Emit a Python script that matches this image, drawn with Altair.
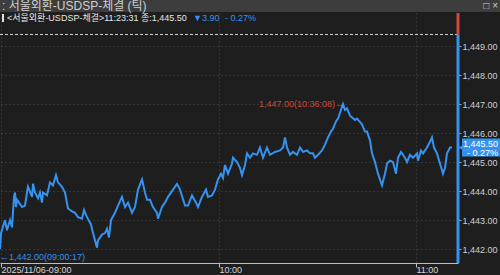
import altair as alt
import pandas as pd

# tick sequence number (x) and traded price
tick = [0, 1, 5, 7, 10, 12, 14, 15, 16, 17, 19, 22, 25, 27, 28, 32, 33, 35, 38, 40,
        42, 43, 47, 50, 53, 56, 58, 62, 65, 68, 72, 75, 78, 82, 84, 87, 91, 93, 97, 98,
        102, 105, 107, 109, 111, 115, 118, 122, 125, 128, 132, 135, 138, 142, 145, 147,
        150, 153, 157, 158, 162, 165, 168, 173, 177, 180, 185, 188, 192, 196, 198, 202,
        206, 208, 212, 215, 218, 221, 223, 225, 228, 232, 233, 237, 240, 242, 245, 247,
        250, 253, 257, 260, 263, 267, 270, 275, 280, 283, 285, 287, 290, 293, 297, 300,
        303, 307, 310, 313, 315, 318, 322, 325, 328, 331, 333, 336, 338, 340, 343, 345,
        347, 350, 355, 357, 362, 365, 367, 370, 372, 375, 378, 382, 385, 387, 390, 393,
        396, 398, 401, 405, 407, 410, 413, 417, 418, 421, 423, 427, 430, 432, 434, 437,
        440, 443, 445, 447, 450, 452]
price = [1442.00, 1442.55, 1443.00, 1442.65, 1443.00, 1442.75, 1443.80, 1443.95, 1443.45, 1443.70,
         1443.60, 1443.45, 1443.50, 1443.95, 1444.15, 1443.80, 1444.25, 1443.95, 1443.75, 1443.95,
         1443.60, 1443.95, 1443.85, 1444.30, 1444.20, 1444.55, 1444.30, 1444.15, 1443.95, 1443.40,
         1443.30, 1443.25, 1443.10, 1443.05, 1443.35, 1443.10, 1442.85, 1442.55, 1442.05, 1442.30,
         1442.50, 1442.55, 1442.70, 1442.40, 1443.00, 1443.25, 1443.50, 1443.80, 1443.45, 1443.60,
         1443.25, 1443.45, 1444.05, 1444.40, 1443.95, 1443.70, 1443.70, 1443.45, 1443.25, 1443.05,
         1443.45, 1443.60, 1443.80, 1444.05, 1444.25, 1444.05, 1443.50, 1443.50, 1443.85, 1443.60,
         1443.45, 1443.80, 1444.05, 1443.80, 1443.85, 1444.05, 1444.40, 1444.60, 1444.45, 1444.90,
         1444.60, 1444.95, 1445.15, 1445.00, 1444.80, 1444.55, 1444.90, 1445.30, 1445.15, 1445.30,
         1445.25, 1445.50, 1445.15, 1445.50, 1445.25, 1445.35, 1445.40, 1445.50, 1445.85, 1445.50,
         1445.25, 1445.35, 1445.25, 1445.50, 1445.35, 1445.40, 1445.30, 1445.30, 1445.15, 1445.25,
         1445.40, 1445.60, 1445.85, 1446.05, 1446.15, 1446.40, 1446.50, 1446.70, 1447.00, 1446.80,
         1446.85, 1446.60, 1446.45, 1446.50, 1446.30, 1446.05, 1446.05, 1445.75, 1445.30, 1445.00,
         1444.60, 1444.20, 1444.60, 1444.95, 1445.05, 1445.00, 1444.60, 1445.15, 1445.35, 1445.15,
         1445.00, 1445.25, 1445.15, 1445.30, 1445.05, 1445.40, 1445.30, 1445.50, 1445.70, 1445.85,
         1445.50, 1445.30, 1444.95, 1444.60, 1444.80, 1445.30, 1445.50, 1445.50]

prev_close = 1449.40
last_price = 1445.50
change = "▼3.90"
change_pct = "- 0.27%"
y_ticks = [1442, 1443, 1444, 1445, 1446, 1447, 1448, 1449]
x_tick_pos = [1, 219, 416]
x_tick_labels = ["2025/11/06-09:00", "10:00", "11:00"]
max_tick, max_price, max_label = 343, 1447.00, "1,447.00(10:36:08)→"
min_tick, min_price, min_label = 0, 1442.00, "←1,442.00(09:00:17)"
window_title = ": 서울외환-USDSP-체결 (틱)"
header_name = "<서울외환-USDSP-체결>11:23:31 종:1,445.50"

BG = "#1e1e1e"
BLUE = "#3592f0"
RED = "#d2473a"
FONT = "Liberation Sans, Noto Sans CJK KR"

df = pd.DataFrame({"tick": tick, "price": price})

label_expr = ("datum.value < 100 ? '%s' : datum.value < 300 ? '%s' : '%s'"
              % tuple(x_tick_labels))

xscale = alt.Scale(domain=[0, 458], nice=False, zero=False)
yscale = alt.Scale(domain=[1441.52, 1450.14], nice=False, zero=False)

x_axis = alt.Axis(
    values=x_tick_pos, labelExpr=label_expr, title=None, grid=True,
    gridColor="#4a4a4a", gridDash=[1, 3], domainColor="#bdbdbd", tickColor="#bdbdbd",
    tickSize=4, labelAlign="left", labelPadding=-2, labelFontSize=9, labelFont=FONT,
    labelColor="#d8d8d8", labelFlush=False, labelBaseline="top", labelOverlap=False)
y_axis = alt.Axis(
    orient="right", values=y_ticks, format=",.2f", title=None, grid=True,
    gridColor="#4a4a4a", gridDash=[1, 3], domain=False, tickColor="#a0a0a0",
    tickSize=3, labelPadding=1, labelFontSize=9, labelFont=FONT, labelColor="#cfcfcf",
    labelOverlap=False)

X = alt.X("tick:Q", scale=xscale, axis=x_axis)
Y = alt.Y("price:Q", scale=yscale, axis=y_axis)

base = alt.Chart(df)
line = base.mark_line(color=BLUE, strokeWidth=2).encode(x=X, y=Y)

pc = alt.Chart(pd.DataFrame({"price": [prev_close]}))
prev_rule = pc.mark_rule(color="#d6d6d6", strokeDash=[3, 2], strokeWidth=1).encode(
    y=Y, x=alt.value(0), x2=alt.value(458))
axis_blue = pc.mark_rule(color=BLUE, strokeWidth=3).encode(
    x=alt.value(458), y=Y, y2=alt.value(250))
axis_red = pc.mark_rule(color=RED, strokeWidth=3).encode(
    x=alt.value(458), y=Y, y2=alt.value(0))

lp = alt.Chart(pd.DataFrame({"price": [last_price], "a": ["1,445.50"], "b": [change_pct]}))
badge = lp.mark_rect(color=BLUE, yOffset=-9, y2Offset=9).encode(
    x=alt.value(462), x2=alt.value(500), y=Y, y2="price:Q")
badge_arrow = lp.mark_point(shape="triangle-left", filled=True, color=BLUE, size=40,
                            opacity=1).encode(x=alt.value(461), y=Y)
badge_a = lp.mark_text(color="white", fontSize=9, font=FONT, align="right", dy=-4).encode(
    x=alt.value(498), y=Y, text="a:N")
badge_b = lp.mark_text(color="white", fontSize=9, font=FONT, align="right", dy=5).encode(
    x=alt.value(498), y=Y, text="b:N")

mx = alt.Chart(pd.DataFrame({"tick": [max_tick], "price": [max_price], "t": [max_label]}))
max_text = mx.mark_text(color=RED, fontSize=9, font=FONT, align="right", baseline="middle",
                        dx=1).encode(x=X, y=Y, text="t:N")
mn = alt.Chart(pd.DataFrame({"tick": [min_tick], "price": [min_price], "t": [min_label]}))
min_text = mn.mark_text(color=BLUE, fontSize=9, font=FONT, align="left", baseline="middle",
                        dy=8).encode(x=X, y=Y, text="t:N")

one = alt.Chart(pd.DataFrame({"k": [0]}))
title_bar = one.mark_rect(color="#3d3d3d").encode(
    x=alt.value(0), x2=alt.value(500), y=alt.value(-13), y2=alt.value(-1))
title_text = one.mark_text(color="#cfcfcf", fontSize=12, font=FONT, align="left",
                           baseline="middle").encode(
    x=alt.value(2), y=alt.value(-7), text=alt.value(window_title))
win_btn = one.mark_text(color="#cfcfcf", fontSize=10, font=FONT, align="right",
                        baseline="middle").encode(
    x=alt.value(498), y=alt.value(-7), text=alt.value("□ ×"))
hdr_mark = one.mark_rect(color="#e0e0e0").encode(
    x=alt.value(2), x2=alt.value(4), y=alt.value(1), y2=alt.value(9))
hdr_text = one.mark_text(color="#e6e6e6", fontSize=9, font=FONT, align="left",
                         baseline="middle").encode(
    x=alt.value(7), y=alt.value(5), text=alt.value(header_name))
hdr_chg = one.mark_text(color=BLUE, fontSize=9, font=FONT, align="left",
                        baseline="middle").encode(
    x=alt.value(193), y=alt.value(5), text=alt.value(change))
hdr_pct = one.mark_text(color=BLUE, fontSize=9, font=FONT, align="left",
                        baseline="middle").encode(
    x=alt.value(225), y=alt.value(5), text=alt.value(change_pct))

chart = alt.layer(
    line, prev_rule, axis_blue, axis_red, badge_arrow, badge, badge_a, badge_b,
    max_text, min_text, title_bar, title_text, win_btn, hdr_mark, hdr_text, hdr_chg, hdr_pct
).properties(
    width=458, height=250, background=BG,
    padding={"left": 0, "top": 13, "right": 42, "bottom": 12},
    autosize=alt.AutoSizeParams(type="none")
).configure_view(stroke=None, fill=BG)

chart.save("out.html", embed_options={"renderer": "svg", "actions": False})
